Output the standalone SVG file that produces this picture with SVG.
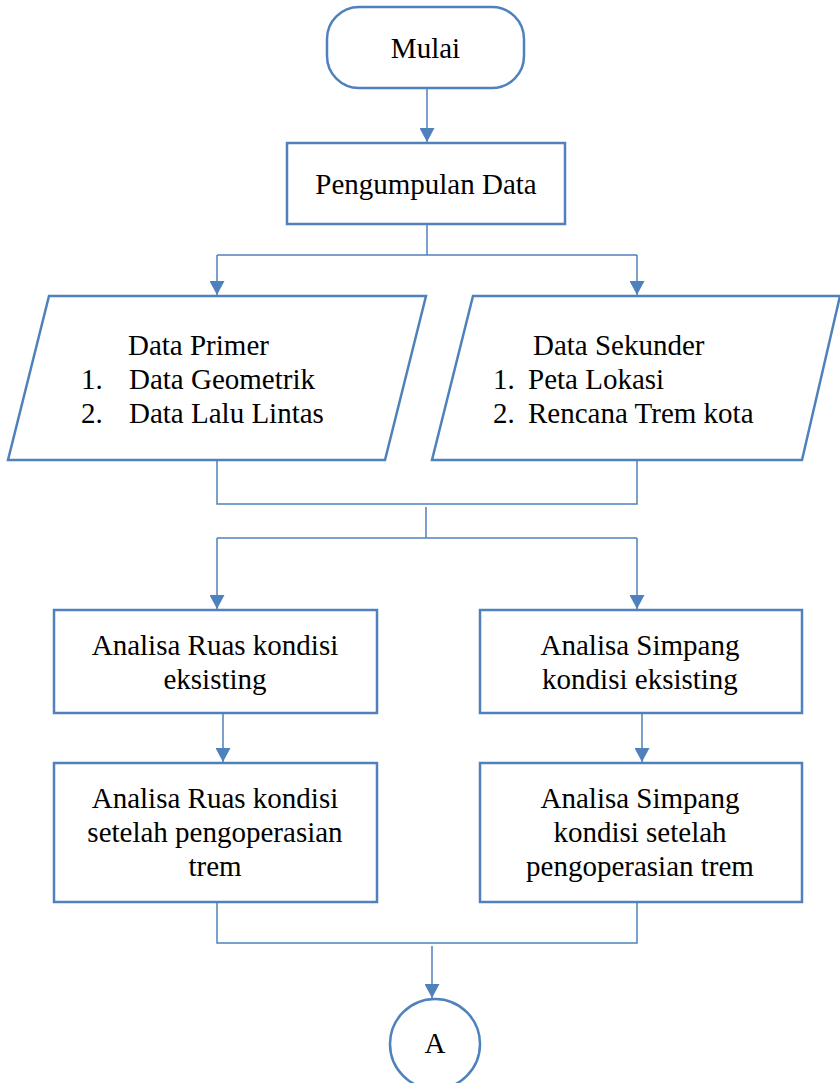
<svg xmlns="http://www.w3.org/2000/svg" width="840" height="1083" viewBox="0 0 840 1083">
<style>
.node{fill:#fff;stroke:#4f81bd;stroke-width:2.5}
.conn{fill:none;stroke:#4f81bd;stroke-width:1.5}
.t{font-family:'Liberation Serif','Times New Roman','DejaVu Serif',serif;font-size:29px;fill:#000}
.c{text-anchor:middle}
</style>
<defs>
<marker id="ah" viewBox="0 0 14 15" refX="14" refY="7.5" markerWidth="14" markerHeight="15" markerUnits="userSpaceOnUse" orient="auto">
<path d="M0,0 L14,7.5 L0,15 z" fill="#4f81bd"/>
</marker>
</defs>
<rect width="840" height="1083" fill="#fff"/>
<g id="connectors">
<path class="conn" d="M427,88 V142" marker-end="url(#ah)"/>
<path class="conn" d="M427,224 V255"/>
<path class="conn" d="M217,255 H637"/>
<path class="conn" d="M217,255 V295" marker-end="url(#ah)"/>
<path class="conn" d="M637,255 V295" marker-end="url(#ah)"/>
<path class="conn" d="M217,460 V504 H637 V460"/>
<path class="conn" d="M426,507 V538"/>
<path class="conn" d="M217,538 H637"/>
<path class="conn" d="M217,538 V609" marker-end="url(#ah)"/>
<path class="conn" d="M637,538 V609" marker-end="url(#ah)"/>
<path class="conn" d="M223,713 V762" marker-end="url(#ah)"/>
<path class="conn" d="M642,713 V762" marker-end="url(#ah)"/>
<path class="conn" d="M217,902 V943 H637 V902"/>
<path class="conn" d="M432,946 V998" marker-end="url(#ah)"/>
</g>
<g class="t" font-family="Liberation Serif, serif">
<g id="mulai">
<rect class="node" x="327" y="7" width="197" height="81" rx="32" ry="32"/>
<text class="c" x="425.5" y="58">Mulai</text>
</g>
<g id="pengumpulan">
<rect class="node" x="287" y="143" width="278" height="81"/>
<text class="c" x="426" y="194">Pengumpulan Data</text>
</g>
<g id="primer">
<polygon class="node" points="49,296 426,296 385,460 8,460"/>
<text x="128" y="355">Data Primer</text>
<text x="81" y="389">1.</text>
<text x="129" y="389">Data Geometrik</text>
<text x="81" y="423">2.</text>
<text x="129" y="423">Data Lalu Lintas</text>
</g>
<g id="sekunder">
<polygon class="node" points="473,296 840,296 802,460 432,460"/>
<text x="533" y="355">Data Sekunder</text>
<text x="493" y="389">1.</text>
<text x="528" y="389">Peta Lokasi</text>
<text x="493" y="423">2.</text>
<text x="528" y="423">Rencana Trem kota</text>
</g>
<g id="ruas1">
<rect class="node" x="54" y="610" width="323" height="103"/>
<text class="c" x="215" y="655">Analisa Ruas kondisi</text>
<text class="c" x="215" y="689">eksisting</text>
</g>
<g id="simpang1">
<rect class="node" x="480" y="610" width="322" height="103"/>
<text class="c" x="640" y="655">Analisa Simpang</text>
<text class="c" x="640" y="689">kondisi eksisting</text>
</g>
<g id="ruas2">
<rect class="node" x="54" y="763" width="323" height="139"/>
<text class="c" x="215" y="808">Analisa Ruas kondisi</text>
<text class="c" x="215" y="842">setelah pengoperasian</text>
<text class="c" x="215" y="876">trem</text>
</g>
<g id="simpang2">
<rect class="node" x="480" y="763" width="322" height="139"/>
<text class="c" x="640" y="808">Analisa Simpang</text>
<text class="c" x="640" y="842">kondisi setelah</text>
<text class="c" x="640" y="876">pengoperasian trem</text>
</g>
<g id="a">
<circle class="node" cx="435" cy="1044" r="45"/>
<text class="c" x="435" y="1053">A</text>
</g>
</g>
</svg>
